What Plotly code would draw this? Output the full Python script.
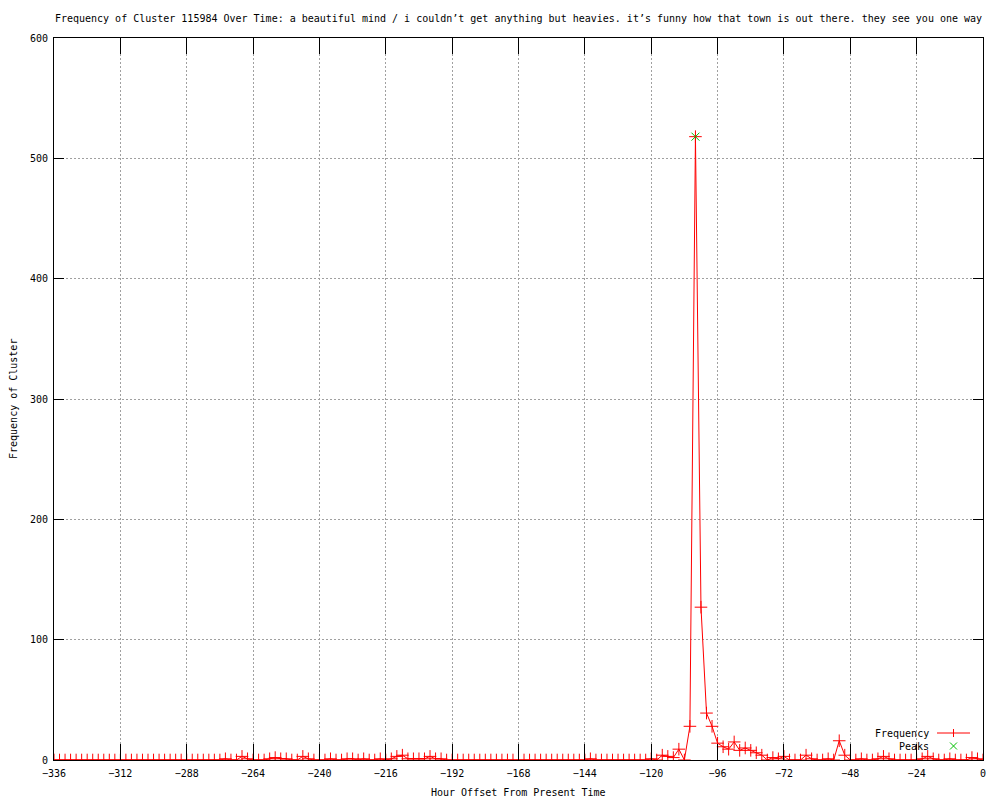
import plotly.graph_objects as go

# ---- data -------------------------------------------------------------
hours = list(range(-336, 1, 2))  # hour offsets (every 2 h)

frequency = [
    0, 0, 0, 0, 0, 0, 0, 0, 0, 0, 0, 0,          # -336 .. -314
    0, 0, 0, 0, 0, 0, 0, 0, 0, 0, 0, 0,          # -312 .. -290
    0, 0, 0, 0, 0, 0, 0, 1, 0, 0, 3, 1,          # -288 .. -266
    0, 0, 0, 1, 2, 1, 1, 0, 0, 3, 1, 0,          # -264 .. -242
    0, 0, 1, 0, 0, 1, 1, 0, 1, 0, 0, 1,          # -240 .. -218
    0, 1, 3, 4, 1, 1, 1, 1, 3, 1, 1, 0,          # -216 .. -194
    0, 0, 0, 0, 0, 0, 0, 0, 0, 0, 0, 0,          # -192 .. -170
    0, 0, 0, 0, 0, 0, 0, 0, 0, 0, 0, 0,          # -168 .. -146
    0, 1, 0, 0, 0, 0, 0, 0, 0, 0, 0, 0,          # -144 .. -122
    1, 0, 4, 3, 2, 9, 0, 28, 518, 127, 39, 28,   # -120 .. -98
    14, 11, 9, 15, 8, 10, 8, 6, 4, 0, 2, 1,      # -96 .. -74
    3, 0, 0, 0, 4, 1, 0, 0, 1, 0, 16, 4,         # -72 .. -50
    0, 0, 1, 0, 0, 1, 3, 1, 0, 0, 0, 0,          # -48 .. -26
    0, 1, 3, 1, 0, 0, 1, 0, 0, 0, 2, 1,          # -24 .. -2
    0,                                           # 0
]

peak_hours = [-104]
peak_values = [518]

x_ticks = [-336, -312, -288, -264, -240, -216, -192, -168, -144, -120, -96, -72, -48, -24, 0]
y_ticks = [0, 100, 200, 300, 400, 500, 600]

title_text = ("Frequency of Cluster 115984 Over Time: a beautiful mind / i couldn\u2019t get "
              "anything but heavies. it\u2019s funny how that town is out there. they see you one way")

# ---- style ------------------------------------------------------------
FONT = "DejaVu Sans Mono"
RED = "#ff0000"
GREEN = "#00c000"
GRID = "#a0a0a0"

fig = go.Figure()

fig.add_trace(go.Scatter(
    x=hours, y=frequency, mode="lines+markers", name="Frequency",
    line=dict(color=RED, width=1),
    marker=dict(symbol="cross-thin", size=9, color=RED, line=dict(color=RED, width=1)),
    showlegend=False,
))
fig.add_trace(go.Scatter(
    x=peak_hours, y=peak_values, mode="markers", name="Peaks",
    marker=dict(symbol="x-thin", size=8, color=GREEN, line=dict(color=GREEN, width=1)),
    showlegend=False,
))

L, R, T, B = 54, 17, 38, 40
W, H = 1000, 800
pw, ph = W - L - R, H - T - B


def px_x(p):
    return (p - L) / pw


def px_y(p):
    return (H - B - p) / ph


axis_common = dict(
    showline=True, linecolor="black", linewidth=1, mirror="ticks",
    ticks="inside", tickcolor="black", tickwidth=1,
    showgrid=True, gridcolor=GRID, gridwidth=1, griddash="2px,2px",
    zeroline=False,
    tickfont=dict(family=FONT, size=10, color="black"),
)

fig.update_xaxes(
    range=[-336, 0], tickmode="array", tickvals=x_ticks,
    ticklen=16, ticklabelstandoff=4, **axis_common,
)
fig.update_yaxes(
    range=[0, 600], tickmode="array", tickvals=y_ticks,
    ticklen=10, ticklabelstandoff=3, **axis_common,
)

annotations = [
    dict(text="Hour Offset From Present Time", xref="paper", yref="paper",
         x=0.5, y=px_y(793), xanchor="center", yanchor="middle", showarrow=False,
         font=dict(family=FONT, size=10, color="black")),
    dict(text="Frequency of Cluster", xref="paper", yref="paper",
         x=px_x(13), y=0.5, xanchor="center", yanchor="middle", showarrow=False,
         textangle=-90, font=dict(family=FONT, size=10, color="black")),
    dict(text="Frequency", xref="paper", yref="paper",
         x=px_x(931), y=px_y(733), xanchor="right", yanchor="middle", showarrow=False,
         font=dict(family=FONT, size=10, color="black")),
    dict(text="Peaks", xref="paper", yref="paper",
         x=px_x(931), y=px_y(746), xanchor="right", yanchor="middle", showarrow=False,
         font=dict(family=FONT, size=10, color="black")),
]

shapes = [
    # legend sample line for Frequency
    dict(type="line", xref="paper", yref="paper", x0=px_x(937), x1=px_x(970),
         y0=px_y(733), y1=px_y(733), line=dict(color=RED, width=1)),
    # legend "+" marker
    dict(type="line", xref="paper", yref="paper", x0=px_x(953.5), x1=px_x(953.5),
         y0=px_y(729), y1=px_y(737), line=dict(color=RED, width=1)),
    # legend "x" marker for Peaks
    dict(type="line", xref="paper", yref="paper", x0=px_x(950), x1=px_x(957),
         y0=px_y(742.5), y1=px_y(749.5), line=dict(color=GREEN, width=1)),
    dict(type="line", xref="paper", yref="paper", x0=px_x(950), x1=px_x(957),
         y0=px_y(749.5), y1=px_y(742.5), line=dict(color=GREEN, width=1)),
]

fig.update_layout(
    width=W, height=H,
    margin=dict(l=L, r=R, t=T, b=B),
    paper_bgcolor="white", plot_bgcolor="white",
    title=dict(text=title_text, x=0.5, xref="paper", xanchor="center",
               y=1 - 18 / H, yref="container", yanchor="middle",
               font=dict(family=FONT, size=10, color="black")),
    annotations=annotations,
    shapes=shapes,
    showlegend=False,
    hovermode=False,
    font=dict(family=FONT, size=10, color="black"),
)

fig.write_html(
    "out.html",
    config={"displayModeBar": False, "staticPlot": True},
    post_script="document.body.style.margin='0px';document.body.style.padding='0px';"
                "document.body.style.overflow='hidden';",
)
